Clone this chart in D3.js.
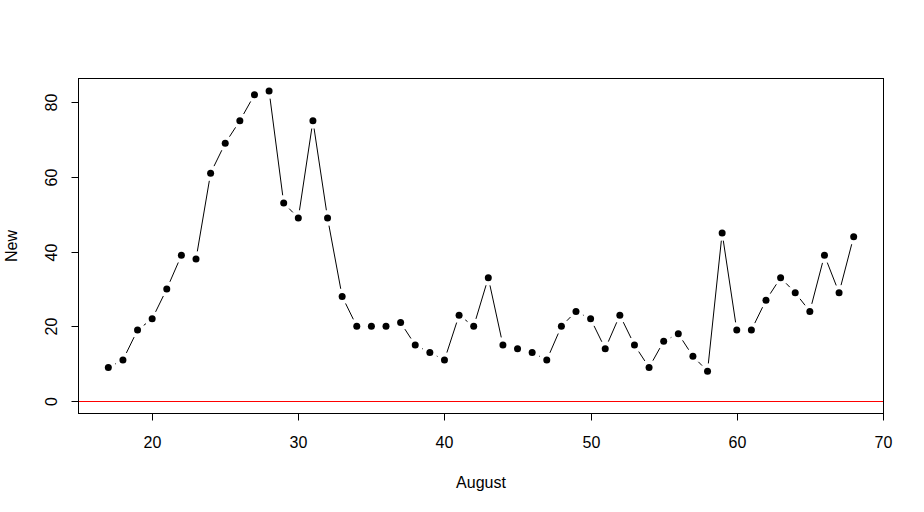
<!DOCTYPE html>
<html>
<head>
<meta charset="utf-8">
<script src="https://cdn.jsdelivr.net/npm/d3@7"></script>
<style>
html,body{margin:0;padding:0;background:#fff;}
svg{display:block;font-family:"Liberation Sans",Arial,sans-serif;}
</style>
</head>
<body>
<svg id="chart" width="924" height="512"></svg>
<script>
const days = [17,18,19,20,21,22,23,24,25,26,27,28,29,30,31,32,33,34,35,36,37,38,39,40,41,42,43,44,45,46,47,48,49,50,51,52,53,54,55,56,57,58,59,60,61,62,63,64,65,66,67,68];
const newCases = [9,11,19,22,30,39,38,61,69,75,82,83,53,49,75,49,28,20,20,20,21,15,13,11,23,20,33,15,14,13,11,20,24,22,14,23,15,9,16,18,12,8,45,19,19,27,33,29,24,39,29,44];
const xTicks = [20,30,40,50,60,70];
const yTicks = [0,20,40,60,80];
const xLabel = "August";
const yLabel = "New";

const svg = d3.select("#chart");
const L = 78.5, R = 883.5, T = 78.5, B = 413.5;
const xr = d3.extent(days), yr = [0, d3.max(newCases)];
const xp = (xr[1]-xr[0])*0.04, yp = (yr[1]-yr[0])*0.04;
const x = d3.scaleLinear().domain([xr[0]-xp, xr[1]+xp]).range([L, R]);
const y = d3.scaleLinear().domain([yr[0]-yp, yr[1]+yp]).range([B, T]);

// zero reference line
svg.append("line").attr("x1", L).attr("x2", R)
  .attr("y1", Math.round(y(0))+0.5).attr("y2", Math.round(y(0))+0.5)
  .attr("stroke", "#ff0000").attr("stroke-width", 1);

// box
svg.append("rect").attr("x", L).attr("y", T).attr("width", R-L).attr("height", B-T)
  .attr("fill", "none").attr("stroke", "#000").attr("stroke-width", 1);

// x axis
const xa = svg.append("g").attr("transform", `translate(0,${B})`)
  .call(d3.axisBottom(x).tickValues(xTicks).tickSize(7).tickPadding(0).tickFormat(d3.format("d")));
xa.select(".domain").attr("d", `M${x(xTicks[0])},0H${x(xTicks[xTicks.length-1])}`);
xa.selectAll(".tick line").attr("stroke", "#000");
xa.selectAll(".tick text").attr("y", 34.5).attr("dy", null)
  .attr("font-size", 16).attr("fill", "#000").attr("font-family", "Liberation Sans, Arial, sans-serif");
xa.selectAll(".tick").attr("transform", d => `translate(${Math.round(x(d))+0.5},0)`);

// y axis
const ya = svg.append("g").attr("transform", `translate(${L},0)`)
  .call(d3.axisLeft(y).tickValues(yTicks).tickSize(7).tickFormat(d3.format("d")));
ya.select(".domain").attr("d", `M0,${y(yTicks[0])}V${y(yTicks[yTicks.length-1])}`);
ya.selectAll(".tick").attr("transform", d => `translate(0,${Math.round(y(d))+0.5})`);
ya.selectAll(".tick line").attr("stroke", "#000");
ya.selectAll(".tick text")
  .attr("x", null).attr("dy", null)
  .attr("transform", "translate(-22,0) rotate(-90)")
  .attr("text-anchor", "middle")
  .attr("font-size", 16).attr("fill", "#000").attr("font-family", "Liberation Sans, Arial, sans-serif");
svg.selectAll(".domain").attr("stroke", "#000");
xa.attr("font-size", null); ya.attr("font-size", null);

// axis titles
svg.append("text").attr("x", (L+R)/2).attr("y", 487.5).attr("text-anchor", "middle")
  .attr("font-size", 16).attr("fill", "#000").text(xLabel);
svg.append("text").attr("transform", `translate(17,${(T+B)/2}) rotate(-90)`)
  .attr("text-anchor", "middle").attr("font-size", 16).attr("fill", "#000").text(yLabel);

// lines with gaps (type = "b")
const pts = days.map((d,i) => [x(d), y(newCases[i])]);
const gap = 7.8;
const segs = [];
for (let i = 0; i < pts.length-1; i++) {
  const [x1,y1] = pts[i], [x2,y2] = pts[i+1];
  const dx = x2-x1, dy = y2-y1, len = Math.hypot(dx,dy);
  if (len > 2*gap) {
    const ux = dx/len, uy = dy/len;
    segs.push([x1+ux*gap, y1+uy*gap, x2-ux*gap, y2-uy*gap]);
  }
}
svg.append("g").selectAll("line").data(segs).join("line")
  .attr("x1", d=>d[0]).attr("y1", d=>d[1]).attr("x2", d=>d[2]).attr("y2", d=>d[3])
  .attr("stroke", "#000").attr("stroke-width", 1);

// points
svg.append("g").selectAll("circle").data(days).join("circle")
  .attr("cx", (d)=>x(d)).attr("cy", (d,i)=>y(newCases[i])).attr("r", 3.5).attr("fill", "#000");
</script>
</body>
</html>
